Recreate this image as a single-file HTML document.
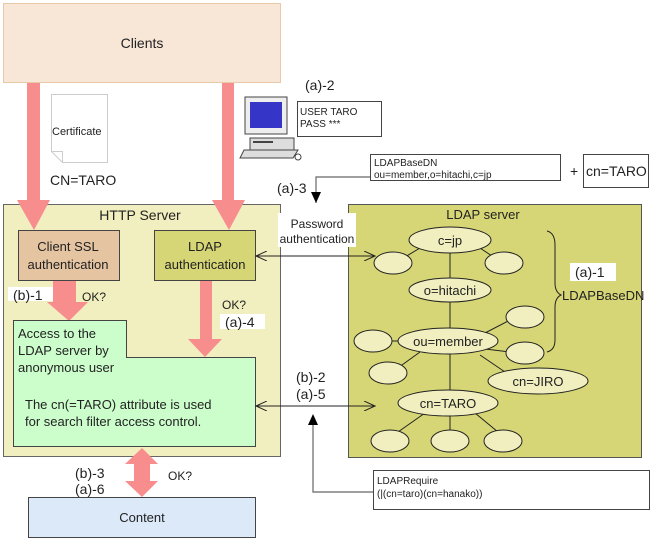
<!DOCTYPE html>
<html><head><meta charset="utf-8"><style>
html,body{margin:0;padding:0;background:#fff}
svg{display:block}
text{font-family:"Liberation Sans",Arial,sans-serif;fill:#222}
</style></head><body>
<svg width="656" height="541" viewBox="0 0 656 541" xmlns="http://www.w3.org/2000/svg">
<defs>
<marker id="open" markerWidth="12" markerHeight="10" refX="11" refY="5" orient="auto-start-reverse" markerUnits="userSpaceOnUse"><path d="M0,0 L11,5 L0,10" fill="none" stroke="#222" stroke-width="1"/></marker>
<marker id="solid" markerWidth="10" markerHeight="12" refX="5" refY="11" orient="0" markerUnits="userSpaceOnUse"><path d="M0,0 L10,0 L5,11 Z" fill="#000"/></marker>
</defs>
<!-- Clients -->
<rect x="3.5" y="3.5" width="277" height="79" fill="#f8e6d6" stroke="#e8c9a8"/>
<text x="142" y="48" font-size="14" text-anchor="middle">Clients</text>
<!-- HTTP Server -->
<rect x="3.5" y="204.5" width="277" height="252" fill="#f1efbf" stroke="#666"/>
<text x="140" y="220" font-size="14" text-anchor="middle">HTTP Server</text>
<!-- LDAP server -->
<rect x="348.5" y="204.5" width="293" height="253" fill="#d6d676" stroke="#555"/>
<text x="483" y="219" font-size="13" text-anchor="middle">LDAP server</text>
<!-- certificate -->
<path d="M51.5,94.5 L107.5,94.5 L107.5,162.5 L62.5,162.5 L51.5,151.5 Z" fill="#fff" stroke="#ccc"/>
<path d="M51.5,151.5 L62.5,151.5 L62.5,162.5" fill="none" stroke="#ccc"/>
<text x="52" y="135" font-size="11">Certificate</text>
<text x="50" y="185" font-size="14">CN=TARO</text>
<!-- pink arrows -->
<g fill="#f78d8d">
<polygon points="27,83 40,83 40,200 50,200 34,230 17,200 27,200"/>
<polygon points="222,83 234,83 234,200 245,200 229,230 212,200 222,200"/>
<polygon points="53,280 76,280 76,302 88,302 69,321 47,302 53,302"/>
<polygon points="200,280 212,280 212,339 222,339 205,357 188,339 200,339"/>
<polygon points="142,448 158,464 150,464 150,481 158,481 142,497 125,481 134,481 134,464 125,464"/>
</g>
<!-- computer -->
<rect x="245" y="97" width="42" height="37" fill="#eee" stroke="#444"/>
<rect x="250" y="102" width="32" height="26" fill="#3535c8"/>
<rect x="250" y="138" width="44" height="12" fill="#ddd" stroke="#444"/>
<rect x="253" y="141" width="20" height="2" fill="#444"/>
<polygon points="244,150 298,150 293,158 240,158" fill="#ddd" stroke="#444"/>
<circle cx="298" cy="157" r="3" fill="#fff" stroke="#444"/>
<text x="305" y="90" font-size="14">(a)-2</text>
<rect x="297.5" y="101.5" width="84" height="35" fill="#fff" stroke="#444"/>
<text x="300" y="115" font-size="10">USER TARO</text>
<text x="300" y="127" font-size="10">PASS ***</text>
<!-- LDAPBaseDN box -->
<rect x="370.5" y="154.5" width="190" height="26" fill="#fff" stroke="#444"/>
<text x="374" y="166" font-size="10">LDAPBaseDN</text>
<text x="374" y="178" font-size="10">ou=member,o=hitachi,c=jp</text>
<text x="570" y="176" font-size="14">+</text>
<rect x="583.5" y="154.5" width="65" height="33" fill="#fff" stroke="#444"/>
<text x="586" y="176" font-size="14">cn=TARO</text>
<polyline points="370,177 316,177 316,203" fill="none" stroke="#666" stroke-width="1.2" marker-end="url(#solid)"/>
<text x="277" y="193" font-size="14">(a)-3</text>
<!-- Client SSL / LDAP auth -->
<rect x="18.5" y="230.5" width="101" height="50" fill="#e5c4a2" stroke="#444"/>
<text x="68" y="251" font-size="13" text-anchor="middle">Client SSL</text>
<text x="68" y="269" font-size="13" text-anchor="middle">authentication</text>
<rect x="154.5" y="230.5" width="101" height="50" fill="#d6d676" stroke="#444"/>
<text x="205" y="251" font-size="13" text-anchor="middle">LDAP</text>
<text x="205" y="269" font-size="13" text-anchor="middle">authentication</text>
<!-- password line -->
<line x1="256" y1="256" x2="375" y2="256" stroke="#222" marker-start="url(#open)" marker-end="url(#open)"/>
<rect x="278" y="213" width="78" height="34" fill="#fff"/>
<text x="317" y="228" font-size="12" text-anchor="middle">Password</text>
<text x="317" y="243" font-size="12" text-anchor="middle">authentication</text>
<!-- green box -->
<path d="M13.5,320.5 L126.5,320.5 L126.5,357.5 L255.5,357.5 L255.5,446.5 L13.5,446.5 Z" fill="#ccfecc" stroke="#444"/>
<text x="18" y="338" font-size="13">Access to the</text>
<text x="18" y="355" font-size="13">LDAP server by</text>
<text x="18" y="372" font-size="13">anonymous user</text>
<text x="25" y="409" font-size="13">The cn(=TARO) attribute is used</text>
<text x="25" y="426" font-size="13">for search filter access control.</text>
<!-- labels -->
<rect x="8" y="287" width="45" height="14" fill="#fff"/>
<text x="13" y="300" font-size="14">(b)-1</text>
<text x="82" y="301" font-size="12">OK?</text>
<text x="222" y="309" font-size="12">OK?</text>
<rect x="220" y="314" width="45" height="15" fill="#fff"/>
<text x="225" y="327" font-size="14">(a)-4</text>
<!-- b-2 line -->
<line x1="256" y1="406" x2="375" y2="406" stroke="#222" marker-start="url(#open)" marker-end="url(#open)"/>
<text x="296" y="382" font-size="14">(b)-2</text>
<text x="296" y="399" font-size="14">(a)-5</text>
<polyline points="373,492 313,492 313,425" fill="none" stroke="#666" stroke-width="1.2"/>
<polygon points="308,425 318,425 313,414" fill="#000"/>
<rect x="373.5" y="470.5" width="276" height="39" fill="#fff" stroke="#444"/>
<text x="377" y="484" font-size="10">LDAPRequire</text>
<text x="377" y="497" font-size="10">(|(cn=taro)(cn=hanako))</text>
<!-- content -->
<text x="75" y="478" font-size="14">(b)-3</text>
<text x="75" y="494" font-size="14">(a)-6</text>
<text x="168" y="480" font-size="12">OK?</text>
<rect x="28.5" y="497.5" width="227" height="40" fill="#dbe9f9" stroke="#444"/>
<text x="142" y="522" font-size="13" text-anchor="middle">Content</text>
<!-- LDAP tree lines -->
<g stroke="#222" stroke-width="1" fill="none">
<line x1="450" y1="240" x2="450" y2="403"/>
<line x1="420" y1="248" x2="400" y2="260"/>
<line x1="480" y1="248" x2="498" y2="260"/>
<line x1="392" y1="341" x2="400" y2="341"/>
<line x1="485" y1="333" x2="510" y2="320"/>
<line x1="485" y1="349" x2="510" y2="352"/>
<line x1="420" y1="352" x2="395" y2="370"/>
<line x1="480" y1="355" x2="505" y2="372"/>
<line x1="425" y1="413" x2="398" y2="432"/>
<line x1="450" y1="416" x2="450" y2="430"/>
<line x1="475" y1="413" x2="498" y2="432"/>
<path d="M547,231 Q555,233 555,245 L555,283 Q555,292 561,295 Q555,298 555,307 L555,340 Q555,350 547,352"/>
</g>
<g fill="#f1efbf" stroke="#222" stroke-width="1">
<ellipse cx="450" cy="240" rx="41" ry="13"/>
<ellipse cx="393" cy="263" rx="19" ry="11"/>
<ellipse cx="504" cy="263" rx="19" ry="11"/>
<ellipse cx="450" cy="290" rx="41" ry="12"/>
<ellipse cx="448" cy="341" rx="50" ry="13"/>
<ellipse cx="373" cy="341" rx="19" ry="11"/>
<ellipse cx="525" cy="317" rx="19" ry="11"/>
<ellipse cx="525" cy="353" rx="19" ry="11"/>
<ellipse cx="388" cy="373" rx="19" ry="11"/>
<ellipse cx="538" cy="381" rx="50" ry="13"/>
<ellipse cx="448" cy="403" rx="50" ry="13"/>
<ellipse cx="390" cy="441" rx="19" ry="11"/>
<ellipse cx="450" cy="441" rx="19" ry="11"/>
<ellipse cx="503" cy="441" rx="19" ry="11"/>
</g>
<g font-size="13" text-anchor="middle">
<text x="450" y="245">c=jp</text>
<text x="450" y="295">o=hitachi</text>
<text x="448" y="346">ou=member</text>
<text x="538" y="386">cn=JIRO</text>
<text x="448" y="408">cn=TARO</text>
</g>
<rect x="570" y="263" width="46" height="18" fill="#fff"/>
<text x="575" y="277" font-size="14">(a)-1</text>
<text x="562" y="300" font-size="13">LDAPBaseDN</text>
</svg>
</body></html>
